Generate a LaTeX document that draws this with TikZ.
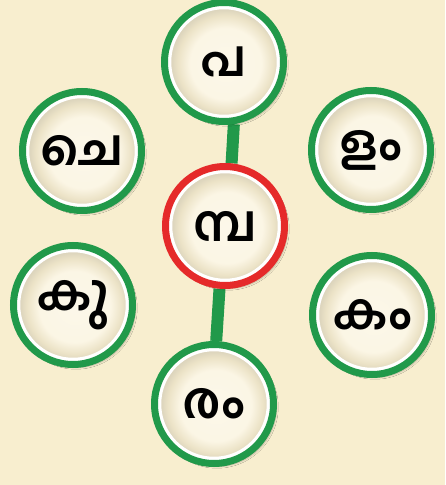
\documentclass[tikz,border=0pt]{standalone}
\usepackage{fontspec}
\newfontfamily\mlfont[Script=Malayalam]{Hind Kochi}
\usetikzlibrary{shadows.blur,backgrounds}
\definecolor{bgcream}{HTML}{F8EECF}
\definecolor{ringgreen}{HTML}{21994A}
\definecolor{ringred}{HTML}{E52A2A}
\pgfdeclareradialshading{bubshade}{\pgfpoint{1bp}{-1bp}}{%
  color(0bp)=(bgcream!45!white);
  color(15bp)=(bgcream!55!white);
  color(20bp)=(bgcream!90!gray);
  color(22.5bp)=(bgcream!78!gray);
  color(25bp)=(bgcream!75!gray);
  color(50bp)=(bgcream!75!gray)}
\tikzset{
  bubble/.style={circle, minimum size=119pt, inner sep=0pt,
    draw=ringgreen, line width=7pt,
    shading=bubshade,
    blur shadow={shadow xshift=3pt, shadow yshift=-3pt, shadow opacity=25, shadow blur steps=6},
    path picture={\draw[white, line width=3.5pt] (path picture bounding box.center) circle (54.5pt);},
    font=\mlfont\bfseries\fontsize{50}{54}\selectfont, text=black},
  centerbubble/.style={bubble, draw=ringred},
  linkbar/.style={draw=ringgreen, line width=12pt}
}
\begin{document}
\begin{tikzpicture}[x=1pt,y=1pt]
\useasboundingbox (0,0) rectangle (445,485);
\node[bubble] (top) at (224,423) {പ};
\node[centerbubble] (mid) at (225,259) {മ്പ};
\node[bubble] (bot) at (214,81) {രം};
\node[bubble] (lt) at (82,334) {ചെ};
\node[bubble] (rt) at (371,335) {ളം};
\node[bubble] (lb) at (73,180) {കു};
\node[bubble] (rb) at (372,170) {കം};
\begin{scope}[on background layer]
\fill[bgcream] (0,0) rectangle (445,485);
\draw[linkbar] (top.-81) -- (mid.84);
\draw[linkbar] (mid.-95) -- (bot.88);
\end{scope}
\end{tikzpicture}
\end{document}
